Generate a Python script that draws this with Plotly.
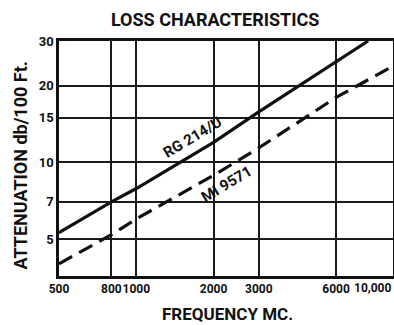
import numpy as np
import plotly.graph_objects as go

# Attenuation (db per 100 ft) versus frequency (MC) for two cables
freq_rg = [500, 800, 1000, 2000, 3000, 6000, 8000]
atten_rg = [5.3, 7.0, 7.9, 12.0, 15.8, 25.0, 30.0]

freq_mi = [500, 800, 1000, 2000, 3000, 6000, 10000]
atten_mi = [4.0, 5.2, 6.0, 8.9, 11.4, 18.0, 23.9]

x_ticks = [500, 800, 1000, 2000, 3000, 6000, 10000]
x_tick_text = ["500", "800", "1000", "2000", "3000", "6000", "10,000"]
y_ticks = [5, 7, 10, 15, 20, 30]
y_tick_text = ["5", "7", "10", "15", "20", "30"]

FONT = "Roboto, Liberation Sans, Arial, sans-serif"
INK = "#111111"
tick_font_x = dict(family=FONT, size=12, color=INK, weight="bold")

fig = go.Figure()
fig.add_trace(go.Scatter(
    x=freq_rg, y=atten_rg, mode="lines",
    line=dict(color=INK, width=3.2),
    showlegend=False, hoverinfo="skip",
))
fig.add_trace(go.Scatter(
    x=freq_mi, y=atten_mi, mode="lines",
    line=dict(color=INK, width=3.2, dash="15px,8px"),
    showlegend=False, hoverinfo="skip",
))

label_font = dict(family=FONT, size=15, color=INK, weight="bold")
fig.add_annotation(
    x=np.log10(1663), y=np.log10(12.6), xref="x", yref="y",
    text="RG 214/U", showarrow=False, textangle=-31, font=label_font,
)
fig.add_annotation(
    x=np.log10(2254), y=np.log10(8.2), xref="x", yref="y",
    text="MI 9571", showarrow=False, textangle=-31, font=label_font,
)

# Axis titles, placed in paper units relative to the plot area
fig.add_annotation(
    x=-38 / 334, y=0.47, xref="paper", yref="paper",
    xanchor="center", yanchor="middle",
    text="ATTENUATION db/100 Ft.", showarrow=False, textangle=-90,
    font=dict(family=FONT, size=18, color=INK, weight="bold"),
)
fig.add_annotation(
    x=0.504, y=-38 / 235, xref="paper", yref="paper",
    xanchor="center", yanchor="middle",
    text="FREQUENCY MC.", showarrow=False,
    font=dict(family=FONT, size=17, color=INK, weight="bold"),
)

# The last frequency label is right-aligned to the frame edge so it stays on the page
fig.add_annotation(
    x=np.log10(x_ticks[-1]), y=-12 / 235, xref="x", yref="paper",
    xanchor="right", yanchor="middle",
    text=x_tick_text[-1], showarrow=False, font=tick_font_x,
)

axis_common = dict(
    showgrid=True, gridcolor="#1a1a1a", gridwidth=2,
    showline=True, linecolor=INK, linewidth=2.5, mirror=True,
    ticks="", zeroline=False,
)

fig.update_xaxes(
    type="log", range=[np.log10(500), np.log10(10000)],
    tickmode="array", tickvals=x_ticks, ticktext=x_tick_text[:-1] + [""],
    tickangle=0, ticklabeloverflow="allow",
    tickfont=tick_font_x,
    **axis_common,
)
fig.update_yaxes(
    type="log", range=[np.log10(3.58), np.log10(30)],
    tickmode="array", tickvals=y_ticks, ticktext=y_tick_text,
    ticklabelstandoff=0, ticklabeloverflow="allow",
    tickfont=dict(family=FONT, size=13, color=INK, weight="bold"),
    **axis_common,
)

fig.update_layout(
    template="none",
    width=394, height=325,
    margin=dict(l=59, r=1, t=41, b=49),
    paper_bgcolor="white", plot_bgcolor="white",
    title=dict(
        text="LOSS CHARACTERISTICS",
        x=0.546, xanchor="center", xref="container",
        y=1 - 20 / 325, yanchor="middle", yref="container",
        font=dict(family=FONT, size=18, color=INK, weight="bold"),
    ),
)

fig.write_html("out.html")
